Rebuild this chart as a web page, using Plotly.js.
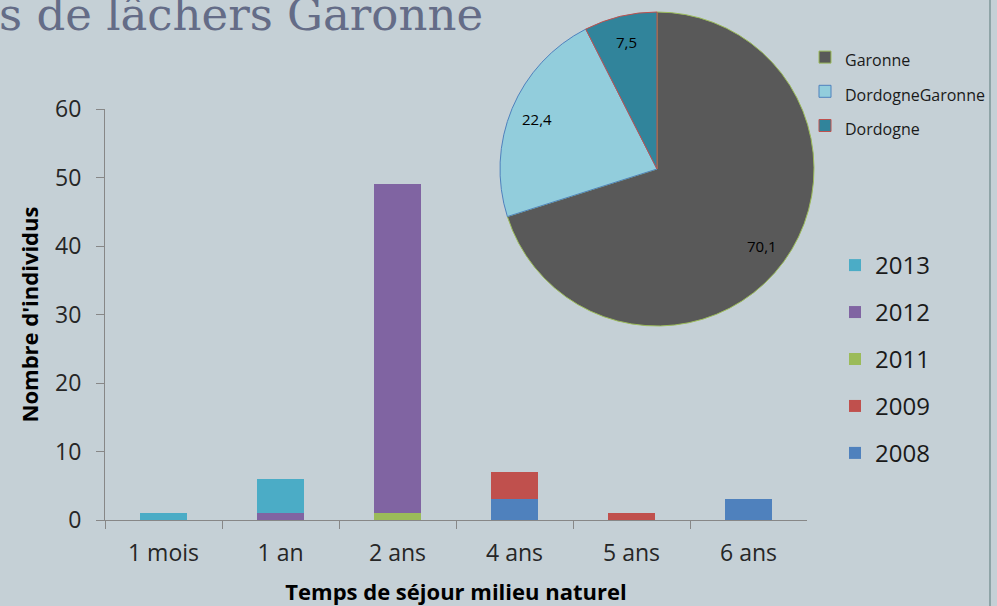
<!DOCTYPE html>
<html>
<head>
<meta charset="utf-8">
<script src="https://cdn.plot.ly/plotly-3.0.1.min.js"></script>
<style>
  html, body { margin: 0; padding: 0; background: #C5D0D6; overflow: hidden; }
  #chart { width: 997px; height: 606px; }
  #edge { position: absolute; left: 989px; top: 0; width: 2px; height: 606px; background: #8FA4A7; }
</style>
</head>
<body>
<div id="chart"></div>
<div id="edge"></div>
<script>
// ---- Data ----
const categories = ['1 mois', '1 an', '2 ans', '4 ans', '5 ans', '6 ans'];
const years = ['2008', '2009', '2011', '2012', '2013'];
const v2008 = [0, 0, 0, 3, 0, 3];
const v2009 = [0, 0, 0, 4, 1, 0];
const v2011 = [0, 0, 1, 0, 0, 0];
const v2012 = [0, 1, 48, 0, 0, 0];
const v2013 = [1, 5, 0, 0, 0, 0];

const pieLabels = ['Garonne', 'DordogneGaronne', 'Dordogne'];
const pieValues = [70.1, 22.4, 7.5];

const titleText = 's de lâchers Garonne';
const xTitle = 'Temps de séjour milieu naturel';
const yTitle = "Nombre d'individus";

// ---- Styles ----
const W = 997, H = 606;
const barColors = { '2008': '#4F81BD', '2009': '#C0504D', '2011': '#9BBB59', '2012': '#8064A2', '2013': '#4BACC6' };
const seriesVals = { '2008': v2008, '2009': v2009, '2011': v2011, '2012': v2012, '2013': v2013 };
const pieColors = ['#595959', '#92CDDC', '#31849B'];
const pieLineColors = ['#9BBB59', '#4F81BD', '#C0504D'];
const bg = '#C5D0D6';

const traces = years.map((y, i) => ({
  type: 'bar',
  name: y,
  x: categories,
  y: seriesVals[y],
  legendgroup: y,
  legendrank: 1000 - i,
  marker: { color: barColors[y], line: { width: 0 } },
  hoverinfo: 'x+y+name'
}));

// pie geometry (pixels)
const pieCx = 657, pieCy = 169, pieR = 157;
const pieDomain = {
  x: [(pieCx - pieR) / W, (pieCx + pieR) / W],
  y: [(H - pieCy - pieR) / H, (H - pieCy + pieR) / H]
};

traces.push({
  type: 'pie',
  labels: pieLabels.map(l => '<span style="font-size:16px">' + l + '</span>'),
  values: pieValues,
  sort: false,
  direction: 'clockwise',
  rotation: 0,
  domain: pieDomain,
  marker: { colors: pieColors, line: { color: pieLineColors, width: 1 } },
  textinfo: 'none',
  legend: 'legend2',
  hoverinfo: 'label+value'
});

// slice value labels, placed from the values (clockwise from 12 o'clock)
const total = pieValues.reduce((a, b) => a + b, 0);
let cum = 0;
const pieAnnotations = pieValues.map(v => {
  const mid = (cum + v / 2) / total;
  cum += v;
  const ang = mid * 2 * Math.PI;
  const px = pieCx + 0.83 * pieR * Math.sin(ang);
  const py = pieCy - 0.83 * pieR * Math.cos(ang);
  return {
    text: v.toFixed(1).replace('.', ','),
    xref: 'paper', yref: 'paper',
    x: px / W, y: (H - py) / H,
    xanchor: 'center', yanchor: 'middle',
    showarrow: false,
    font: { family: 'Open Sans', size: 15, color: '#000000' }
  };
});

const axisColor = '#878787';
const layout = {
  width: W, height: H,
  margin: { l: 0, r: 0, t: 0, b: 0 },
  paper_bgcolor: bg,
  plot_bgcolor: bg,
  separators: ', ',
  barmode: 'stack',
  bargap: 0.6,
  font: { family: 'Open Sans', color: '#262626' },
  xaxis: {
    domain: [105 / W, 807 / W],
    type: 'category',
    range: [-0.5, 5.5],
    tickson: 'boundaries',
    ticks: 'outside', ticklen: 8, tickcolor: axisColor, tickwidth: 1,
    ticklabelstandoff: 12,
    showline: true, linecolor: axisColor, linewidth: 1,
    showgrid: false, zeroline: false,
    tickfont: { family: 'Open Sans', size: 23, color: '#262626' },
    title: { text: xTitle, font: { family: 'Open Sans', size: 22, weight: 'bold', color: '#000000' }, standoff: 18 },
    fixedrange: true
  },
  yaxis: {
    domain: [86 / H, (H - 109) / H],
    range: [0, 60], dtick: 10,
    ticks: 'outside', ticklen: 8, tickcolor: axisColor, tickwidth: 1,
    ticklabelstandoff: 10,
    showline: true, linecolor: axisColor, linewidth: 1,
    showgrid: false, zeroline: false,
    tickfont: { family: 'Open Sans', size: 23, color: '#262626' },
    title: { text: yTitle, font: { family: 'Open Sans', size: 22, weight: 'bold', color: '#000000' }, standoff: 10 },
    fixedrange: true
  },
  legend: {
    x: 835 / W, xanchor: 'left',
    y: (H - 243) / H, yanchor: 'top',
    traceorder: 'grouped',
    tracegroupgap: 12.75,
    bgcolor: 'rgba(0,0,0,0)',
    font: { family: 'Open Sans', size: 24, color: '#1a1a1a' }
  },
  legend2: {
    x: 805 / W, xanchor: 'left',
    y: (H - 35) / H, yanchor: 'top',
    bgcolor: 'rgba(0,0,0,0)',
    font: { family: 'Open Sans', size: 24, color: '#1a1a1a' }
  },
  annotations: [{
    text: titleText,
    xref: 'paper', yref: 'paper',
    x: -3 / W, xanchor: 'left',
    y: 1 + 14 / H, yanchor: 'top',
    showarrow: false,
    font: { family: 'DejaVu Serif', size: 45, color: '#646C87' }
  }].concat(pieAnnotations),
  showlegend: true
};

Plotly.newPlot('chart', traces, layout, { displayModeBar: false });
</script>
</body>
</html>
